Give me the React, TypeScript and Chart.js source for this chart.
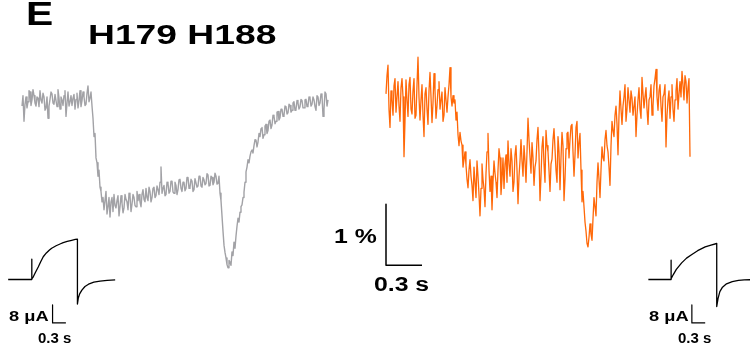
import React, { useEffect, useRef } from "react";
import { Chart, registerables } from "chart.js";

Chart.register(...registerables);

// ---------- data ----------
// Fluorescence traces (ΔF/F, %), sampled every SAMPLE_DT seconds
const SAMPLE_DT = 1 / 120;

const grayValues = [
  // baseline
  -0.05, 0.12, -0.3, -0.02, 0.1, -0.08, 0.02, 0.2, 0.18, -0.04,
  0.05, 0.22, 0.12, 0.0, -0.05, 0.1, 0.08, -0.06, 0.2, 0.05,
  0.0, 0.16, 0.1, -0.12, -0.08, 0.1, -0.25, -0.05, 0.06, 0.18,
  0.15, 0.0, -0.02, 0.14, 0.04, -0.06, 0.22, 0.08, -0.1, 0.1,
  0.05, -0.04, 0.12, 0.2, -0.22, 0.0, 0.18, -0.05, 0.02, 0.12,
  -0.04, 0.08, 0.14, -0.1, 0.06, 0.16, -0.08, 0.04, 0.2, -0.06,
  0.04, 0.18, 0.1, -0.04, -0.02, 0.16, 0.28, 0.02, 0.08, 0.18,
  // light on: drop
  -0.05, -0.25, -0.55, -0.5, -0.9, -0.98, -1.2, -1.1, -1.38, -1.45, -1.62, -1.55,
  // plateau
  -1.75, -1.6, -1.45, -1.82, -1.7, -1.55, -1.87, -1.62, -1.55, -1.78,
  -1.5, -1.68, -1.72, -1.6, -1.52, -1.85, -1.7, -1.52, -1.64, -1.8,
  -1.72, -1.5, -1.58, -1.62, -1.75, -1.48, -1.52, -1.78, -1.66, -1.5,
  -1.55, -1.68, -1.7, -1.45, -1.6, -1.5, -1.62, -1.7, -1.5, -1.42,
  -1.58, -1.62, -1.4, -1.55, -1.6, -1.38, -1.45, -1.62, -1.55, -1.4,
  -1.38, -1.55, -1.52, -1.36, -1.42, -1.5, -1.3, -1.05, -1.48, -1.4,
  -1.35, -1.52, -1.5, -1.3, -1.32, -1.48, -1.45, -1.28, -1.28, -1.46,
  -1.48, -1.3, -1.35, -1.5, -1.42, -1.26, -1.25, -1.4, -1.45, -1.3,
  -1.3, -1.44, -1.4, -1.22, -1.22, -1.4, -1.38, -1.25, -1.28, -1.45,
  -1.42, -1.24, -1.24, -1.38, -1.36, -1.2, -1.2, -1.36, -1.38, -1.22,
  -1.26, -1.34, -1.32, -1.16, -1.18, -1.36, -1.35, -1.2, -1.22, -1.34,
  -1.3, -1.15, -1.2, -1.33, -1.32, -1.2,
  // transient dip
  -1.48, -1.6, -1.85, -2.1, -2.33, -2.45, -2.54, -2.65, -2.7, -2.58,
  -2.61, -2.66, -2.44, -2.5, -2.28, -2.38, -2.18, -2.02, -1.89, -1.95,
  -1.79, -1.7, -1.67, -1.55, -1.46, -1.3, -1.13, -1.05, -0.93, -0.98,
  -0.87, -0.8, -0.77, -0.82, -0.7, -0.6, -0.61, -0.72, -0.64, -0.5,
  // recovery
  -0.55, -0.42, -0.4, -0.58, -0.52, -0.38, -0.35, -0.5, -0.45, -0.3,
  -0.28, -0.42, -0.36, -0.2, -0.22, -0.34, -0.3, -0.15, -0.14, -0.28,
  -0.24, -0.1, -0.1, -0.22, -0.2, -0.05, -0.06, -0.18, -0.16, -0.02,
  -0.04, -0.15, -0.12, 0.0, 0.02, -0.12, -0.1, 0.04, 0.0, -0.1,
  -0.06, 0.06, 0.04, -0.08, -0.08, 0.05, 0.06, -0.06, -0.04, 0.1,
  0.08, -0.05, -0.02, 0.1, 0.05, -0.06, -0.12, 0.12, 0.1, -0.04,
  0.0, 0.15, 0.12, -0.22, -0.1, 0.18, 0.15, -0.05, 0.05,
];

const orangeValues = [
  // baseline
  0.15, 0.45, 0.62, -0.1, -0.4, 0.2, 0.05, -0.2, 0.28, 0.4,
  -0.15, 0.1, 0.35, -0.05, -0.3, 0.25, 0.4, 0.1, -0.88, -0.3,
  0.38, 0.05, -0.22, 0.3, 0.42, -0.1, -0.18, 0.2, 0.4, -0.25,
  -0.2, 0.3, 0.75, 0.1, -0.28, 0.05, 0.3, -0.2, -0.55, 0.15,
  0.25, -0.1, -0.35, 0.2, 0.5, 0.1, -0.32, 0.0, 0.48, 0.2,
  -0.25, -0.05, 0.22, 0.35, -0.1, 0.05, 0.18, -0.3, -0.2, 0.25,
  0.05, -0.15, 0.1, 0.3, 0.58, 0.1, -0.05, 0.12, 0.0, 0.05,
  // drop
  -0.28, -0.15, -0.52, -0.7, -0.48, -0.62, -0.69, -1.05, -0.93, -0.8, -1.02, -1.25, -1.39, -1.1, -0.93, -1.2,
  // low plateau
  -1.35, -1.6, -1.05, -1.3, -1.55, -0.95, -1.2, -1.5, -1.85, -1.4,
  -1.0, -1.25, -1.4, -1.7, -1.15, -0.8, -0.5, -1.1, -1.45, -1.2,
  -1.75, -1.3, -0.95, -1.15, -1.3, -1.55, -1.1, -0.75, -0.9, -1.5,
  -1.25, -0.9, -1.4, -1.0, -0.85, -1.3, -0.62, -1.0, -1.2, -0.75,
  -0.95, -1.45, -1.3, -0.85, -0.7, -1.1, -1.65, -1.2, -0.95, -0.6,
  // mid plateau
  -0.95, -1.2, -0.7, -0.95, -1.3, -0.8, -0.25, -0.6, -0.88, -1.15,
  -0.65, -0.9, -1.35, -1.05, -0.95, -0.6, -0.4, -0.85, -1.6, -1.2,
  -0.72, -0.55, -1.0, -1.3, -0.45, -0.7, -0.8, -1.1, -1.45, -1.0,
  -0.92, -0.6, -0.42, -0.75, -1.1, -1.3, -0.55, -0.8, -1.42, -0.9,
  -0.48, -0.7, -1.6, -1.25, -0.75, -0.5, -0.48, -0.9, -0.6, -0.38,
  -0.35, -0.8, -1.2, -0.85, -0.4, -0.3, -0.9, -0.65,
  // transient dip
  -0.5, -1.1, -1.62, -1.45, -1.7, -1.95, -2.1, -2.3, -2.36, -2.2,
  -1.98, -2.15, -2.25, -1.9, -1.55, -1.7, -1.85, -1.3, -0.98, -1.25,
  -1.55, -1.1, -0.72, -0.9, -0.95, -0.6, -0.45, -0.7, -0.8, -1.05,
  // recovery
  -1.35, -0.7, -0.3, -0.45, -0.55, -0.2, -0.05, -0.35, -0.85, -0.2,
  0.2, -0.1, -0.35, -0.05, 0.1, 0.3, -0.3, -0.1, 0.25, 0.05,
  -0.15, 0.2, 0.08, -0.2, -0.05, 0.1, -0.55, -0.2, 0.05, 0.25,
  -0.1, -0.25, 0.42, 0.15, -0.08, 0.1, 0.25, -0.1, -0.35, 0.05,
  0.1, 0.3, -0.2, -0.05, 0.28, 0.4, 0.55, 0.1, -0.12, 0.2,
  0.3, -0.05, -0.3, 0.1, 0.15, 0.3, -0.72, -0.2, 0.05, 0.2,
  -0.25, 0.1, 0.3, -0.1, -0.3, 0.05, 0.2, 0.4, -0.1, 0.15,
  0.35, 0.1, 0.52, 0.3, 0.05, 0.45, 0.35, 0.0, 0.25, 0.4, -0.88,
];

// Two-electrode voltage clamp currents (μA) for the insets
const insetLeftTime = [-0.53, 0, 0, 0.005, 0.036, 0.08, 0.15, 0.2, 0.26, 0.33, 0.4, 0.45, 0.55, 0.65, 0.71, 0.8, 0.9, 0.98, 1.03, 1.03, 1.05, 1.08, 1.13, 1.2, 1.28, 1.4, 1.54, 1.7, 1.88];
const insetLeftCurrent = [0, 0, 9.0, 0.3, 1.2, 3.0, 5.7, 7.8, 10.1, 11.8, 13.1, 13.9, 15.0, 15.9, 16.4, 16.9, 17.4, 17.8, 17.9, -10.9, -8.2, -6.4, -4.7, -3.1, -2.1, -1.2, -0.7, -0.4, -0.2];

const insetRightTime = [-0.51, 0, 0, 0.005, 0.052, 0.12, 0.24, 0.35, 0.47, 0.6, 0.77, 0.9, 1.03, 1.03, 1.06, 1.1, 1.16, 1.25, 1.38, 1.52, 1.65, 1.8];
const insetRightCurrent = [0, 0, 8.6, 0.3, 2.2, 4.5, 7.4, 9.5, 11.1, 12.8, 14.5, 15.3, 16.0, -12.0, -8.4, -5.4, -3.4, -1.9, -0.9, -0.4, -0.2, -0.1];

// scale bars (data units)
const SCALE_TIME = 0.3; // s
const SCALE_FLUO = 1; // %
const SCALE_CURRENT = 8; // μA
const FLUO_BAR_ANCHOR = { t: 0, v: -2.66 }; // on the orange time axis
const INSET_BAR_ANCHOR = { t: 0.47, i: -19.3 };

// ---------- layout ----------
const W = 750;
const H = 347;
const PX_PER_S = 120;
const PX_PER_PCT = 61;
const GRAY_X0 = 22;
const ORANGE_X0 = 386;
const FLUO_Y0 = 103;
const INSET_PX_PER_S = 44.4;
const INSET_PX_PER_UA = 2.25;
const INSET_L_X0 = 31.7;
const INSET_R_X0 = 671;
const INSET_Y0 = 279.5;

const GRAY = "rgb(162,162,166)";
const ORANGE = "rgb(255,104,8)";
const FONT = "'Liberation Sans', Arial, Helvetica, sans-serif";

function xAxis(x0: number, ppu: number) {
  return { type: "linear", axis: "x", display: false, min: -x0 / ppu, max: (W - x0) / ppu };
}
function yAxis(y0: number, ppu: number) {
  return { type: "linear", axis: "y", display: false, min: -(H - y0) / ppu, max: y0 / ppu };
}

function series(values: number[]) {
  return values.map((v, i) => ({ x: i * SAMPLE_DT, y: v }));
}
function pairs(xs: number[], ys: number[]) {
  return xs.map((x, i) => ({ x, y: ys[i] }));
}

function line(data: any[], xAxisID: string, yAxisID: string, color: string, width: number) {
  return {
    type: "line",
    data,
    xAxisID,
    yAxisID,
    borderColor: color,
    borderWidth: width,
    pointRadius: 0,
    tension: 0,
    fill: false,
    borderJoinStyle: "round",
    clip: false,
  };
}

function Label({ text, left, baseline, size, sx }: { text: string; left: number; baseline: number; size: number; sx: number }) {
  return (
    <div
      style={{
        position: "absolute",
        left,
        top: baseline - 0.8465 * size,
        fontFamily: FONT,
        fontWeight: "bold",
        fontSize: size,
        lineHeight: 1,
        whiteSpace: "nowrap",
        color: "#000",
        transform: `scaleX(${sx})`,
        transformOrigin: "left top",
      }}
    >
      {text}
    </div>
  );
}

export default function App() {
  const ref = useRef<HTMLCanvasElement | null>(null);

  useEffect(() => {
    if (!ref.current) return;
    const fluoBar = [
      { x: FLUO_BAR_ANCHOR.t, y: FLUO_BAR_ANCHOR.v + SCALE_FLUO },
      { x: FLUO_BAR_ANCHOR.t, y: FLUO_BAR_ANCHOR.v },
      { x: FLUO_BAR_ANCHOR.t + SCALE_TIME, y: FLUO_BAR_ANCHOR.v },
    ];
    const insetBar = [
      { x: INSET_BAR_ANCHOR.t, y: INSET_BAR_ANCHOR.i + SCALE_CURRENT },
      { x: INSET_BAR_ANCHOR.t, y: INSET_BAR_ANCHOR.i },
      { x: INSET_BAR_ANCHOR.t + SCALE_TIME, y: INSET_BAR_ANCHOR.i },
    ];
    const chart = new Chart(ref.current, {
      type: "line",
      data: {
        datasets: [
          line(series(grayValues), "xg", "yf", GRAY, 1.4),
          line(series(orangeValues), "xo", "yf", ORANGE, 1.3),
          line(fluoBar, "xo", "yf", "#000", 1.5),
          line(pairs(insetLeftTime, insetLeftCurrent), "xi1", "yi", "#000", 1.3),
          line(pairs(insetRightTime, insetRightCurrent), "xi2", "yi", "#000", 1.3),
          line(insetBar, "xi1", "yi", "#000", 1.2),
          line(insetBar, "xi2", "yi", "#000", 1.2),
        ] as any,
      },
      options: {
        responsive: false,
        maintainAspectRatio: false,
        animation: false,
        devicePixelRatio: 1,
        layout: { padding: 0 },
        plugins: { legend: { display: false }, tooltip: { enabled: false }, title: { display: false } },
        events: [],
        scales: {
          xg: xAxis(GRAY_X0, PX_PER_S),
          xo: xAxis(ORANGE_X0, PX_PER_S),
          xi1: xAxis(INSET_L_X0, INSET_PX_PER_S),
          xi2: xAxis(INSET_R_X0, INSET_PX_PER_S),
          yf: yAxis(FLUO_Y0, PX_PER_PCT),
          yi: yAxis(INSET_Y0, INSET_PX_PER_UA),
        } as any,
      },
    });
    return () => chart.destroy();
  }, []);

  return (
    <div style={{ position: "absolute", left: 0, top: 0, width: W, height: H, background: "#fff", overflow: "hidden" }}>
      <canvas ref={ref} width={W} height={H} style={{ position: "absolute", left: 0, top: 0, width: W, height: H }} />
      <Label text="E" left={26} baseline={25} size={34} sx={1.2} />
      <Label text="H179 H188" left={88} baseline={45} size={28} sx={1.33} />
      <Label text="1 %" left={334} baseline={243} size={20} sx={1.24} />
      <Label text="0.3 s" left={374} baseline={291} size={20} sx={1.24} />
      <Label text="8 μA" left={9} baseline={321} size={15.5} sx={1.18} />
      <Label text="0.3 s" left={38} baseline={343} size={15} sx={1.0} />
      <Label text="8 μA" left={649} baseline={321} size={15.5} sx={1.18} />
      <Label text="0.3 s" left={678} baseline={343} size={15} sx={1.0} />
    </div>
  );
}
